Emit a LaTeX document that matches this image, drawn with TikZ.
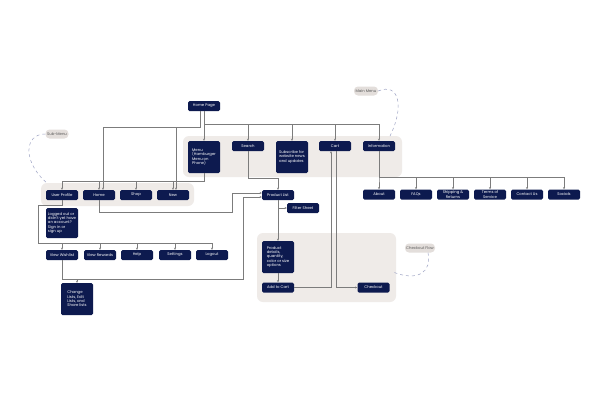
\documentclass[tikz,border=0pt]{standalone}
\usepackage{fontspec}
\setmainfont{Poppins}
\usetikzlibrary{arrows.meta}
\definecolor{navy}{HTML}{0D1A4F}
\definecolor{panelc}{HTML}{EFEBE8}
\definecolor{pillc}{HTML}{E3DEDB}
\definecolor{pilltext}{HTML}{5A5A5A}
\definecolor{linec}{HTML}{7C7C7C}
\definecolor{dashc}{HTML}{9EA3C4}
\begin{document}
\begin{tikzpicture}[x=1pt,y=-1pt,
  box/.style={fill=navy,rounded corners=1.5pt,text=white,minimum width=32pt,minimum height=10pt,inner sep=0pt,font=\fontsize{3.8}{4.4}\selectfont,align=center},
  tall/.style={box,minimum height=32pt,align=left},
  pill/.style={fill=pillc,rounded corners=4pt,text=pilltext,minimum width=24pt,minimum height=9pt,inner sep=0pt,font=\fontsize{3.8}{4.4}\selectfont},
  link/.style={draw=linec,line width=0.5pt,-{Stealth[length=2.2pt,width=2pt]}},
  note/.style={draw=dashc,dashed,line width=0.5pt}]
\useasboundingbox[fill=white] (0,0) rectangle (600,400);
%panels
\fill[panelc,rounded corners=6pt] (183,136) rectangle (402,177);
\fill[panelc,rounded corners=6pt] (41,183) rectangle (194,206);
\fill[panelc,rounded corners=6pt] (257,233) rectangle (396,302);
%main menu
\node[box] (hp) at (204,106) {Home Page};
\node[tall] (menu) at (204,157) {Menu\\(Hamburger\\Menu on\\Phone)};
\node[box] (srch) at (248,146) {Search};
\node[tall] (subs) at (292,157) {Subscribe for\\website news\\and updates};
\node[box] (cart) at (335,146) {Cart};
\node[box] (info) at (379,146) {Information};
%sub menu
\node[box] (prof) at (62,195) {User Profile};
\node[box] (home) at (99,195) {Home};
\node[box] (shop) at (136,195) {Shop};
\node[box] (new) at (173,195) {New};
\node[tall,minimum height=30pt] (lgd) at (62,223) {Logged out or\\didn't yet have\\an account?\\Sign in or\\sign up};
\node[box] (wish) at (62,255) {View Wishlist};
\node[box] (rwd) at (100,255) {View Rewards};
\node[box] (help) at (137,255) {Help};
\node[box] (sett) at (175,255) {Settings};
\node[box] (lout) at (212,255) {Logout};
\node[tall] (chg) at (77,299) {Change\\Lists, Edit\\Lists, and\\Share lists};
%checkout
\node[box] (plist) at (278,195) {Product List};
\node[box] (filt) at (303,208) {Filter Sheet};
\node[tall] (pdet) at (278,257) {Product\\details,\\quantity,\\color or size\\options};
\node[box] (atc) at (278,287.5) {Add to Cart};
\node[box] (chk) at (373.5,287.5) {Checkout};
%information
\foreach \n/\x/\t in {about/379/About,faq/416/FAQs,ship/453/{Shipping \&\\Returns},tos/490/{Terms of\\Service},cont/527/Contact Us,soc/564/Socials}
  \node[box] (\n) at (\x,194.5) {\t};
%labels
\node[pill] (mm) at (366,91) {Main Menu};
\node[pill,minimum width=23pt] (sm) at (57,134) {Sub-Menu};
\node[pill,minimum width=30pt] (cf) at (420,248) {Checkout Flow};
%links
\coordinate (bus) at (204,124);
\coordinate (busL) at (200,127);
\draw[link] (hp) -- (menu);
\foreach \n in {srch,subs,cart,info}
  \draw[link] (hp.south) |- (bus) -| (\n.north);
\draw[link] (hp.south -| busL) -- (busL) -| ([xshift=4pt]home.north);
\draw[link] (hp.south -| busL) -- (busL) -| ([xshift=3pt]new.north);
%
\coordinate (mbus) at (204,181);
\foreach \n in {prof,home,shop,new}
  \draw[link] (menu.south) -- (mbus) -| (\n.north);
\coordinate (pbus) at (38,243);
\foreach \n in {wish,rwd,help,sett,lout}
  \draw[link] (prof.south) -- ++(0,5) -| (pbus) -| (\n.north);
\draw[link] (wish.south) -- ++(0,19) -| (chg.north);
\draw[link] (wish.south) |- (243,279) |- ([yshift=-2pt]plist.west);
\draw[link] (home.south) |- (232,212) |- ([yshift=2pt]plist.west);
\draw[link] (srch.south) -- ++(0,27) -| (plist.north);
%
\draw[link] (plist) -- (pdet);
\draw[link] (plist.south |- filt.west) -- (filt.west);
\draw[link] (pdet) -- (atc);
\draw[link] (atc.east) -| ([xshift=-4pt]cart.south);
\draw[link] ([xshift=1pt]cart.south) |- (chk.west);
\coordinate (ibus) at (379,177);
\foreach \n in {about,faq,ship,tos,cont,soc}
  \draw[link] (info.south) -- (ibus) -| (\n.north);
%notes
\draw[note] (mm.east) .. controls (400,82) and (404,108) .. (390,136);
\draw[note] (sm.west) .. controls (24,134) and (22,162) .. (48,184);
\draw[note] ([xshift=8pt]cf.south) .. controls (432,272) and (418,282) .. (393,272);
\end{tikzpicture}
\end{document}
